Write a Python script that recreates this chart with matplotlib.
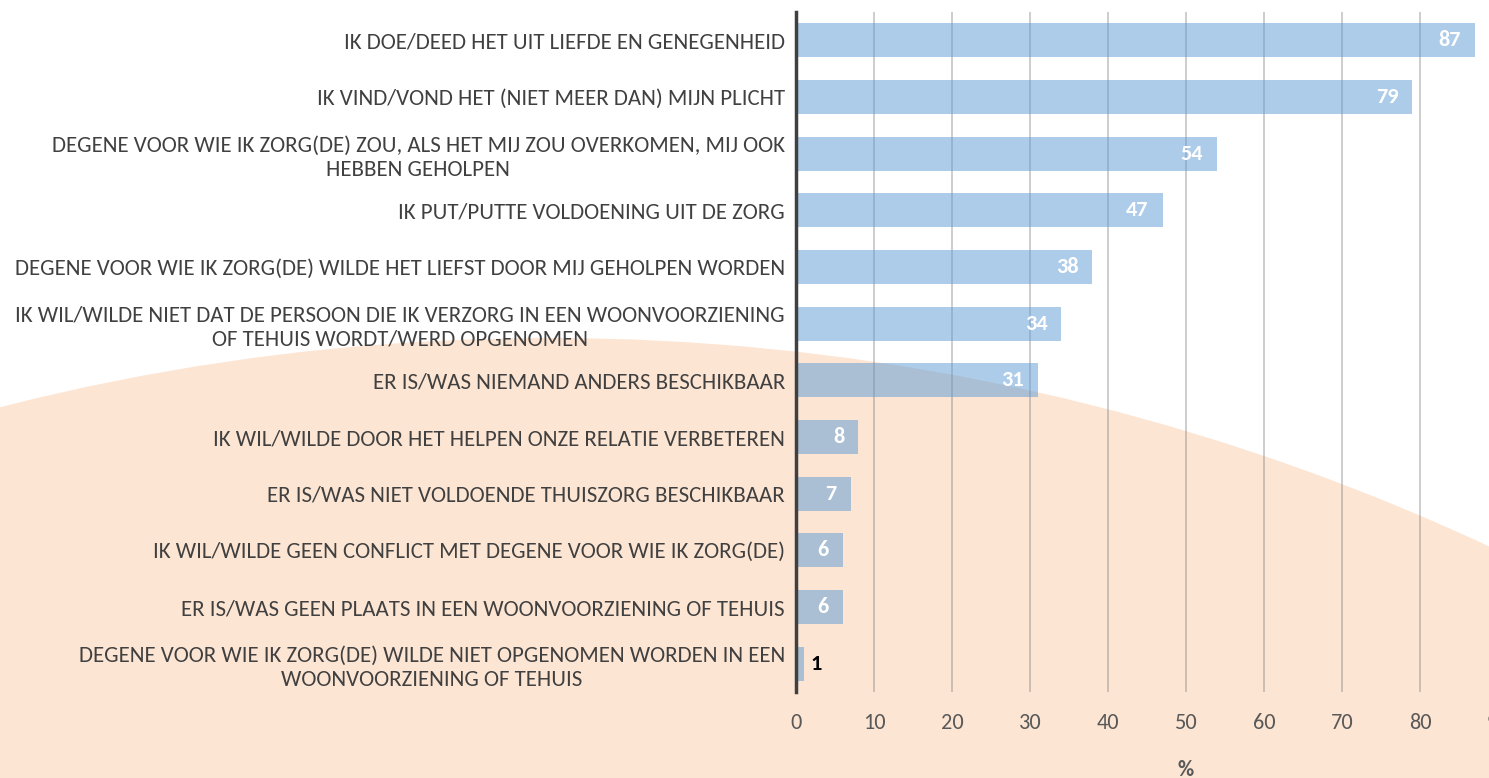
import matplotlib.pyplot as plt
from matplotlib.patches import Circle
import numpy as np

# data, top to bottom
labels = [
    "IK DOE/DEED HET UIT LIEFDE EN GENEGENHEID",
    "IK VIND/VOND HET (NIET MEER DAN) MIJN PLICHT",
    "DEGENE VOOR WIE IK ZORG(DE) ZOU, ALS HET MIJ ZOU OVERKOMEN, MIJ OOK\nHEBBEN GEHOLPEN",
    "IK PUT/PUTTE VOLDOENING UIT DE ZORG",
    "DEGENE VOOR WIE IK ZORG(DE) WILDE HET LIEFST DOOR MIJ GEHOLPEN WORDEN",
    "IK WIL/WILDE NIET DAT DE PERSOON DIE IK VERZORG IN EEN WOONVOORZIENING\nOF TEHUIS WORDT/WERD OPGENOMEN",
    "ER IS/WAS NIEMAND ANDERS BESCHIKBAAR",
    "IK WIL/WILDE DOOR HET HELPEN ONZE RELATIE VERBETEREN",
    "ER IS/WAS NIET VOLDOENDE THUISZORG BESCHIKBAAR",
    "IK WIL/WILDE GEEN CONFLICT MET DEGENE VOOR WIE IK ZORG(DE)",
    "ER IS/WAS GEEN PLAATS IN EEN WOONVOORZIENING OF TEHUIS",
    "DEGENE VOOR WIE IK ZORG(DE) WILDE NIET OPGENOMEN WORDEN IN EEN\nWOONVOORZIENING OF TEHUIS",
]
values = [87, 79, 54, 47, 38, 34, 31, 8, 7, 6, 6, 1]
xticks = [0, 10, 20, 30, 40, 50, 60, 70, 80, 90]

plt.rcParams['font.family'] = ['Carlito', 'Liberation Sans Narrow', 'Open Sans', 'DejaVu Sans']

W, H = 1489, 778
fig = plt.figure(figsize=(W / 100, H / 100), dpi=100)
fig.patch.set_facecolor('white')

# background peach circle, in pixel units
bg = fig.add_axes([0, 0, 1, 1], zorder=0)
bg.set_xlim(0, W)
bg.set_ylim(H, 0)
bg.axis('off')
bg.add_patch(Circle((550, 2558), 2220, color='#FDE5D3', lw=0))

ax = fig.add_axes([796 / W, 86 / H, 702 / W, 680 / H], zorder=1)
ax.patch.set_alpha(0)

y = np.arange(len(values))
bars = ax.barh(y, values, height=0.6, color='#5B9BD5', alpha=0.5, zorder=1)
ax.set_ylim(len(values) - 0.5, -0.5)
ax.set_xlim(0, 90)
ax.set_xticks(xticks)
ax.set_yticks(y)
ax.set_yticklabels(labels, fontsize=16.5, color='#404040', ha='right',
                   multialignment='center', linespacing=1.25)
ax.tick_params(axis='y', length=0, pad=8)
ax.tick_params(axis='x', length=0, pad=15, labelsize=16, labelcolor='#595959')

ax.grid(axis='x', color='#7F7F7F', alpha=0.42, lw=1.3, zorder=0)
ax.set_axisbelow(True)
for s in ['top', 'right', 'bottom']:
    ax.spines[s].set_visible(False)
ax.spines['left'].set_color('#404040')
ax.spines['left'].set_linewidth(2.5)
ax.spines['left'].set_zorder(3)

for b, v in zip(bars, values):
    cy = b.get_y() + b.get_height() / 2
    if v > 3:
        ax.annotate(str(v), (v, cy), xytext=(-10, 0), textcoords='offset points',
                    ha='right', va='center', color='white', fontsize=16,
                    fontweight='bold', zorder=4)
    else:
        ax.annotate(str(v), (v, cy), xytext=(5, 0), textcoords='offset points',
                    ha='left', va='center', color='black', fontsize=16,
                    fontweight='bold', zorder=4)

ax.set_xlabel('%', fontsize=16, fontweight='bold', color='#595959')
ax.xaxis.set_label_coords(0.555, -0.1)

fig.savefig('out.png', dpi=100)
